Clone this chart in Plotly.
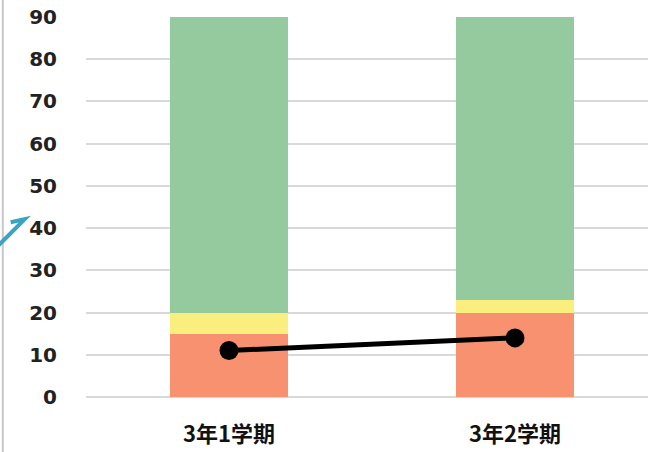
import plotly.graph_objects as go

categories = ["3年1学期", "3年2学期"]
orange_vals = [15, 20]
yellow_vals = [5, 3]
green_vals = [70, 67]
line_vals = [11, 14]
y_ticks = [0, 10, 20, 30, 40, 50, 60, 70, 80, 90]

fig = go.Figure()
fig.add_bar(x=categories, y=orange_vals, marker=dict(color="#F7916F", line=dict(width=0)), width=0.41)
fig.add_bar(x=categories, y=yellow_vals, marker=dict(color="#FAEE7E", line=dict(width=0)), width=0.41)
fig.add_bar(x=categories, y=green_vals, marker=dict(color="#95CA9E", line=dict(width=0)), width=0.41)
fig.add_scatter(x=categories, y=line_vals, mode="lines+markers",
                line=dict(color="#000000", width=5),
                marker=dict(color="#000000", size=19))

fig.update_layout(
    barmode="stack",
    width=648, height=452,
    margin=dict(l=86, r=0, t=17, b=55),
    paper_bgcolor="white", plot_bgcolor="white",
    showlegend=False,
    xaxis=dict(range=[-0.5, 1.465], showgrid=False, zeroline=False, showline=False,
               ticks="", ticklabelstandoff=22, automargin=False,
               tickfont=dict(family="Noto Sans CJK JP", size=22, color="#111111", weight="bold")),
    yaxis=dict(range=[0, 90], tickvals=y_ticks, showgrid=True, gridcolor="#D9D9D9", gridwidth=1.5,
               zeroline=True, zerolinecolor="#D9D9D9", zerolinewidth=1.5, showline=False,
               ticks="", ticklabelstandoff=28, automargin=False,
               tickfont=dict(family="DejaVu Sans", size=20, color="#222222", weight="bold")),
    shapes=[
        dict(type="line", xref="paper", yref="paper", x0=-0.148, x1=-0.148, y0=-0.2, y1=1.1,
             line=dict(color="#C8C8C8", width=2)),
        dict(type="path", xref="paper", yref="paper",
             path="M -0.155,0.40 L -0.109,0.468 L -0.134,0.46",
             line=dict(color="#3BA3C4", width=4)),
    ],
)
fig.write_html("out.html")
